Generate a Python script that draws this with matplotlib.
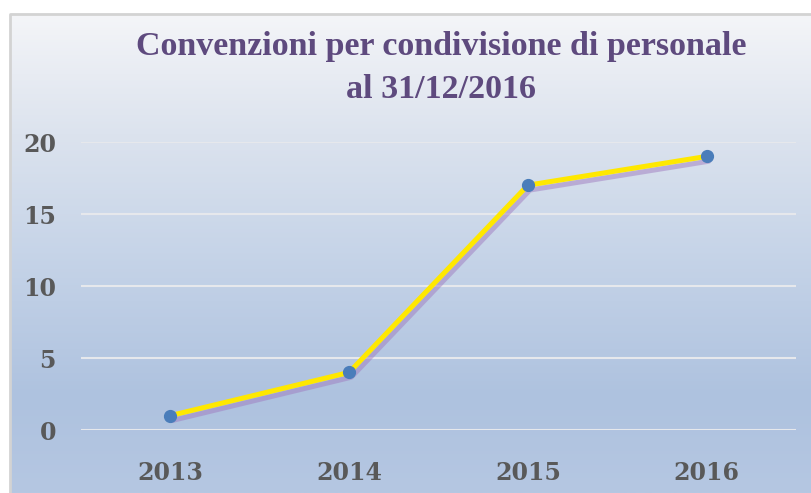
import matplotlib.pyplot as plt
import matplotlib.patheffects as pe
from matplotlib.colors import LinearSegmentedColormap
import numpy as np

anni = ['2013', '2014', '2015', '2016']
convenzioni = [1, 4, 17, 19]
y_ticks = [0, 5, 10, 15, 20]

W, H = 812, 493
fig = plt.figure(figsize=(W / 100, H / 100), dpi=100)
fig.patch.set_facecolor('white')

# sfondo sfumato del riquadro
bg = fig.add_axes([10 / W, 0, 1 - 10 / W, 1 - 14 / H], zorder=0)
cmap = LinearSegmentedColormap.from_list('sfondo', [
    (0.0, '#F4F5F8'), (0.25, '#DCE3EE'), (0.5, '#C6D4E8'),
    (0.8, '#AEC2DF'), (1.0, '#B5C7E2')])
grad = np.linspace(0, 1, 256).reshape(-1, 1)
bg.imshow(grad, aspect='auto', cmap=cmap, extent=[0, 1, 0, 1], origin='upper')
bg.set_xlim(0, 1)
bg.set_ylim(0, 1)
bg.axis('off')
bg.plot([0, 0, 1], [0, 1, 1], color='#D3D3D3', lw=2, clip_on=False)

ax = fig.add_axes([81 / W, 1 - 430 / H, (796 - 81) / W, (430 - 142) / H], zorder=1)
ax.patch.set_alpha(0)
x = np.arange(len(anni))

ax.plot(x, convenzioni, color='#FFE800', lw=3.6, solid_capstyle='round', zorder=3,
        path_effects=[pe.SimpleLineShadow(offset=(1.5, -3.5), shadow_color='#A07CC0', alpha=0.5),
                      pe.Normal()])
ax.plot(x, convenzioni, 'o', color='#4A7DBA', markersize=8.5, zorder=4, clip_on=False)

ax.set_xlim(-0.5, len(anni) - 0.5)
ax.set_ylim(0, 20)
ax.set_yticks(y_ticks)
ax.set_xticks(x)
ax.set_xticklabels(anni)
ax.grid(axis='y', color='#E6E8EC', lw=1.5, zorder=1)
ax.set_axisbelow(True)
for s in ax.spines.values():
    s.set_visible(False)
ax.tick_params(length=0)
ax.tick_params(axis='x', pad=22)
ax.tick_params(axis='y', pad=18)
for lab in ax.get_xticklabels() + ax.get_yticklabels():
    lab.set_fontfamily('DejaVu Serif')
    lab.set_fontweight('heavy')
    lab.set_color('#595959')
    lab.set_fontsize(17)

fig.text(441 / W, 1 - 46 / H, 'Convenzioni per condivisione di personale',
         ha='center', va='center', fontsize=24.5, fontweight='bold',
         family='Liberation Serif', color='#5E4A7E')
fig.text(441 / W, 1 - 89 / H, 'al 31/12/2016',
         ha='center', va='center', fontsize=24.5, fontweight='bold',
         family='Liberation Serif', color='#5E4A7E')

fig.savefig('out.png', dpi=100)
